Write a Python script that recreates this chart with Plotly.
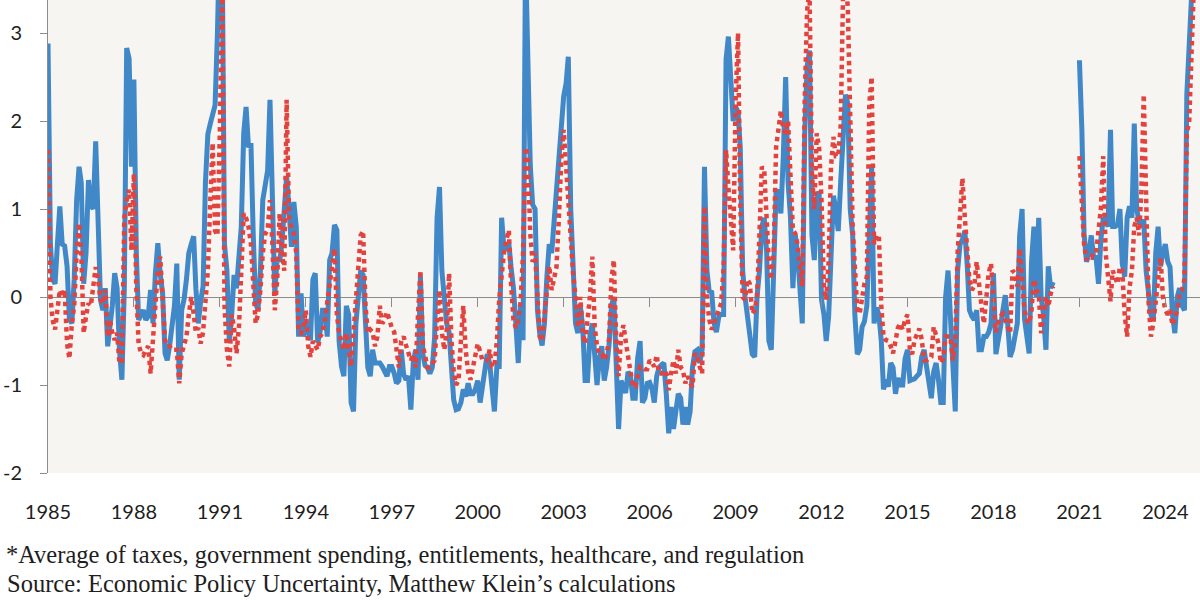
import plotly.graph_objects as go
import pandas as pd

# ---- Blue series (solid line), monthly values, Jan 1985 onward ----
blue_1985_1989 = [
    2.88, 0.6, 0.2, 0.15, 0.6, 1.03, 0.6, 0.58, 0.35, -0.25, -0.3, 0.2,
    1.1, 1.48, 1.3, 0.15, 0.5, 1.33, 1.05, 1.0, 1.77, 1.0, -0.03, -0.15,
    0.1, -0.56, -0.37, -0.1, 0.27, 0.1, -0.6, -0.94, 0.1, 2.83, 2.71, 1.48,
    2.47, 0.5, -0.26, -0.2, -0.15, -0.26, -0.22, 0.08, -0.3, 0.27, 0.61, 0.27,
    0.04, -0.64, -0.72, -0.55, -0.3, -0.1, 0.38, -0.94, -0.15, -0.03, 0.2, 0.5,
]
blue_1990s = [
    0.6, 0.69, 0.1, -0.3, -0.05, 0.12, 1.3, 1.85, 1.97, 2.1, 2.18, 3.0,
    4.2, 3.8, 0.6, 0.3, -0.49, -0.2, 0.25, 0.1, 0.45, 0.8, 1.86, 2.16,
    1.7, 1.75, 0.72, -0.07, -0.15, 0.3, 1.1, 1.3, 1.44, 2.24, 1.0, 0.04,
    0.45, 0.4, 0.6, 1.0, 1.37, 1.0, 0.57, 1.08, 0.8, -0.45, 0.04, -0.45,
    -0.3, -0.4, -0.49, 0.2, 0.27, -0.52, -0.4, -0.15, -0.15, -0.45, 0.42, 0.5,
    0.82, 0.76, -0.5, -0.79, -0.9, -0.1, -0.2, -1.2, -1.3, -0.3, 0.05, 0.3,
    0.25, -0.3, -0.8, -0.9, -0.6, -0.75, -0.75, -0.75, -0.79, -0.85, -0.9, -0.79,
    -0.79, -0.87, -0.98, -0.95, -0.6, -0.88, -0.94, -0.9, -1.28, -0.75, -0.6, -0.94,
    0.23, -0.65, -0.78, -0.8, -0.87, -0.8, -0.45, 0.9, 1.25, 0.3, 0.0, -0.3,
    -0.4, -0.75, -1.17, -1.28, -1.27, -1.2, -1.05, -1.13, -0.98, -1.1, -1.1, -1.05,
]
blue_2000s = [
    -0.95, -1.2, -1.0, -0.85, -0.65, -0.75, -1.05, -1.3, -0.79, -0.79, 0.9, 0.55,
    0.55, 0.61, 0.34, 0.1, -0.3, -0.75, -0.1, -0.49, 3.9, 2.6, 1.5, 1.05,
    1.0, -0.15, -0.41, -0.55, -0.3, 0.23, 0.6, 0.5, 0.9, 1.14, 1.5, 1.95,
    2.28, 2.43, 2.73, 1.0, 0.15, -0.3, -0.41, -0.1, -0.35, -0.95, -0.95, -0.45,
    -0.3, -0.75, -1.0, -0.7, -0.56, -0.95, -0.8, -0.55, -0.1, 0.0, -0.9, -1.5,
    -0.95, -1.02, -1.09, -0.85, -0.9, -1.15, -1.15, -0.7, -0.5, -1.2, -1.15, -0.98,
    -0.97, -1.05, -1.2, -0.9, -0.8, -0.77, -0.75, -1.1, -1.55, -1.25, -1.5, -1.3,
    -1.1, -1.15, -1.45, -1.25, -1.45, -1.3, -0.8, -0.62, -0.6, -0.75, -0.6, 1.48,
    0.3, 0.05, 0.07, -0.3, -0.4, -0.22, -0.2, -0.2, 2.7, 2.96, 2.35, 2.0,
    2.16, 2.1, 1.7, 0.3, 0.0, -0.2, -0.41, -0.65, -0.68, 0.0, 0.3, 0.8,
]
blue_2010s = [
    0.9, 0.5, -0.5, -0.6, 0.3, 1.2, 1.2, 0.95, 1.6, 2.5, 1.3, 0.91,
    0.1, 0.7, 0.5, 0.0, -0.3, 1.86, 2.62, 2.8, 0.7, 0.42, 1.1, 1.2,
    -0.03, -0.2, -0.5, -0.22, 0.4, 1.15, 1.0, 0.75, 1.3, 1.75, 2.3, 2.2,
    1.0, 0.7, -0.2, -0.65, -0.6, -0.34, -0.28, -0.1, 0.6, 1.48, -0.3, -0.12,
    -0.2, -0.5, -1.05, -0.94, -1.02, -0.75, -0.8, -1.1, -0.92, -1.0, -1.0, -0.7,
    -0.6, -0.95, -0.94, -0.93, -0.9, -0.87, -0.68, -0.6, -0.79, -1.0, -1.15, -0.85,
    -0.75, -0.95, -1.2, -1.2, 0.0, 0.3, -0.3, -1.0, -1.3, 0.3, 0.6, 0.65,
    0.75, 0.35, -0.15, -0.22, -0.26, -0.15, -0.6, -0.6, -0.45, -0.45, -0.4, -0.3,
    0.27, -0.65, -0.45, -0.34, -0.15, 0.02, -0.3, -0.68, -0.6, -0.4, -0.3, 0.7,
    1.0, -0.25, -0.4, -0.64, 0.4, 0.8, 0.0, 0.9, 0.0, -0.2, -0.6, 0.35,
]
blue_2020s = [
    0.1, 0.17, None, None, None, None, None, None, None, None, None, None,
    2.69, 1.9, 0.72, 0.4, 0.5, 0.7, 0.45, 0.45, 0.15, 0.65, 0.9, 0.87,
    0.8, 1.9, 0.8, 0.8, 0.82, 1.0, 0.38, 0.23, 0.9, 1.03, 0.9, 1.97,
    1.0, 0.85, 0.8, 0.88, 0.3, 0.04, -0.2, -0.26, 0.5, 0.8, 0.35, 0.5,
    0.6, 0.4, 0.34, -0.2, -0.41, 0.0, 0.1, -0.1, -0.15, 2.3, 2.96, 3.6,
    4.0,
]

# ---- Red series (dotted line) ----
red_1985_1989 = [
    1.67, 0.0, -0.26, -0.37, -0.15, 0.08, 0.0, 0.08, -0.53, -0.7, -0.3, -0.1,
    0.5, 0.84, 0.5, -0.41, -0.22, -0.07, -0.1, 0.08, 0.34, 0.2, -0.03, -0.08,
    0.08, -0.45, -0.26, -0.41, -0.49, -0.41, -0.75, -0.75, 0.9, 1.1, 1.22, 0.53,
    1.4, 0.1, -0.53, -0.64, -0.66, -0.6, -0.56, -0.87, -0.5, -0.03, 0.3, 0.46,
    0.0, -0.49, -0.56, -0.56, -0.6, -0.6, -0.6, -0.98, -0.64, -0.55, -0.45, -0.2,
]
red_1990s = [
    0.0, -0.19, -0.4, -0.35, -0.53, -0.4, -0.1, 0.3, 1.1, 1.75, 0.75, 0.7,
    1.9, 3.6, -0.1, -0.6, -0.79, -0.2, -0.35, -0.64, -0.35, 0.3, 0.95, 0.9,
    0.8, 0.6, 0.15, -0.3, -0.2, 0.08, 0.5, 0.72, 0.76, 1.1, 0.6, -0.15,
    0.2, 0.95, 0.5, 0.3, 2.24, 0.9, 0.8, 0.72, 0.5, -0.4, -0.41, -0.35,
    -0.15, -0.56, -0.68, -0.5, -0.55, -0.6, -0.45, -0.41, -0.26, -0.03, 0.12, 0.34,
    0.55, -0.2, -0.41, -0.49, -0.6, -0.41, -0.6, -0.79, -0.4, -0.05, 0.42, 0.7,
    0.75, -0.1, -0.41, -0.37, -0.4, -0.56, -0.45, -0.1, -0.3, -0.26, -0.17, -0.26,
    -0.35, -0.4, -0.65, -0.8, -0.5, -0.45, -0.55, -0.65, -0.72, -0.65, -0.8, -0.2,
    0.3, -0.55, -0.7, -0.8, -0.8, -0.75, -0.72, -0.26, 0.08, -0.4, -0.6, -0.4,
    0.27, -0.5, -0.85, -1.0, -0.95, -0.5, -0.1, -0.6, -0.85, -0.94, -0.8, -0.62,
]
red_2000s = [
    -0.53, -0.62, -0.72, -0.72, -0.72, -0.6, -0.79, -0.79, -0.5, -0.03, 0.3, 0.5,
    0.65, 0.76, 0.15, -0.26, -0.35, -0.26, -0.05, 0.5, 1.7, 1.6, 0.72, 0.4,
    0.5, -0.03, -0.45, -0.5, -0.2, 0.1, 0.35, 0.08, 0.2, 0.34, 0.9, 1.55,
    1.9, 1.5, 1.0, 0.6, 0.27, 0.0, -0.35, 0.0, -0.4, -0.53, -0.3, 0.0,
    0.46, -0.34, -0.56, -0.65, -0.65, -0.72, -0.65, -0.49, 0.2, 0.42, -0.5, -0.9,
    -0.45, -0.32, -0.5, -0.68, -0.85, -1.02, -1.02, -0.9, -0.79, -0.8, -0.82, -0.82,
    -0.72, -0.75, -0.79, -0.66, -0.87, -0.87, -0.83, -0.87, -1.06, -0.87, -0.72, -0.87,
    -0.6, -0.8, -0.83, -0.98, -0.9, -0.98, -1.02, -0.64, -0.68, -0.79, -0.87, 1.03,
    -0.03, -0.26, -0.37, -0.3, -0.22, -0.15, -0.07, 0.34, 1.67, 1.25, 0.85, 0.53,
    2.24, 3.0, 1.1, 0.0, -0.03, 0.2, 0.15, -0.19, -0.15, 0.0, 0.72, 1.48,
]
red_2010s = [
    1.44, 0.72, 0.38, 0.2, 0.5, 1.7, 1.9, 2.12, 1.9, 1.86, 2.0, 1.3,
    0.76, 0.72, 0.6, 0.34, 0.12, 2.24, 3.25, 3.5, 1.4, 1.0, 1.86, 1.7,
    1.1, 0.1, -0.03, 0.4, 1.48, 1.82, 1.6, 1.6, 1.94, 3.4, 3.6, 3.3,
    1.86, 0.8, 0.34, -0.15, -0.19, 0.0, 0.15, 0.23, 2.2, 2.5, 0.6, 0.7,
    0.7, -0.1, -0.45, -0.49, -0.5, -0.56, -0.64, -0.5, -0.35, -0.3, -0.37, -0.26,
    -0.2, -0.6, -0.65, -0.49, -0.42, -0.36, -0.48, -0.72, -0.72, -0.7, -0.68, -0.34,
    -0.45, -0.53, -0.75, -0.7, -0.45, -0.45, -0.45, -0.72, -0.5, 0.5, 0.91, 1.35,
    0.9, 0.55, 0.19, 0.08, 0.12, 0.4, 0.12, -0.1, -0.3, 0.0, 0.27, 0.38,
    0.0, -0.4, -0.3, -0.22, -0.19, -0.26, -0.32, -0.41, 0.3, 0.27, 0.12, 0.55,
    0.2, -0.15, -0.26, -0.3, -0.15, 0.2, 0.08, 0.04, -0.41, -0.22, 0.0, -0.11,
]
red_2020s = [
    0.04, 0.12, None, None, None, None, None, None, None, None, None, None,
    1.6, 1.1, 0.6, 0.42, 0.46, 0.45, 0.5, 0.5, 0.72, 1.0, 1.6, 0.5,
    0.23, -0.05, 0.3, 0.23, 0.15, 0.34, 0.3, -0.2, -0.45, 0.1, 0.3, 0.8,
    0.9, 0.7, 1.2, 2.3, 1.0, -0.05, -0.45, -0.3, -0.05, 0.15, 0.45, 0.0,
    -0.15, -0.2, -0.15, -0.32, -0.25, -0.15, 0.04, 0.08, 0.2, 1.86, 2.0, 3.0,
    3.6,
]

tick_years = [1985, 1988, 1991, 1994, 1997, 2000, 2003, 2006, 2009, 2012, 2015, 2018, 2021, 2024]
y_ticks = [-2, -1, 0, 1, 2, 3]
y_ticktext = ["-2", "-1", "0", "1", "2", "3"]
note_line1 = "*Average of taxes, government spending, entitlements, healthcare, and regulation"
note_line2 = "Source: Economic Policy Uncertainty, Matthew Klein\u2019s calculations"

blue = blue_1985_1989 + blue_1990s + blue_2000s + blue_2010s + blue_2020s
red = red_1985_1989 + red_1990s + red_2000s + red_2010s + red_2020s
months = pd.date_range("1985-01-01", periods=len(blue), freq="MS")

Y_MIN, Y_MAX = -2, 3.375
X_RANGE = ["1985-01-01", "2025-03-18"]
tickvals = [f"{y}-01-01" for y in tick_years]

BLUE = "#4088C7"
RED = "#E2433F"
AXIS = "#8C8C8C"
TEXT = "#1E1E1E"
TICK_FONT = dict(family="Lato", size=20, color=TEXT)
NOTE_FONT = dict(family="Liberation Serif", size=24.5, color=TEXT)
PLOT_H = 473

fig = go.Figure()
fig.add_trace(go.Scatter(
    x=months, y=blue, mode="lines", connectgaps=False,
    line=dict(color=BLUE, width=5), hoverinfo="skip", showlegend=False,
))
fig.add_trace(go.Scatter(
    x=months, y=red, mode="lines", connectgaps=False,
    line=dict(color=RED, width=4.5, dash="4.5px,4px"), hoverinfo="skip", showlegend=False,
))
# invisible trace that activates the tick axis drawn on the zero line
fig.add_trace(go.Scatter(
    x=[months[0]], y=[0], xaxis="x2", mode="markers",
    marker=dict(opacity=0), hoverinfo="skip", showlegend=False,
))

fig.update_layout(
    width=1200, height=600,
    margin=dict(l=48, r=0, t=0, b=600 - PLOT_H),
    paper_bgcolor="white",
    plot_bgcolor="#F7F5F2",
    hovermode=False,
    xaxis=dict(
        type="date", range=X_RANGE, tickvals=tickvals, ticktext=[str(y) for y in tick_years],
        ticks="outside", ticklen=21, tickcolor="rgba(0,0,0,0)",
        showgrid=False, zeroline=False, showline=False, tickfont=TICK_FONT,
    ),
    xaxis2=dict(
        type="date", overlaying="x", matches="x", anchor="free",
        position=(0 - Y_MIN) / (Y_MAX - Y_MIN),
        tickvals=tickvals[1:], ticks="outside", ticklen=9, tickwidth=1, tickcolor=AXIS,
        showticklabels=False, showgrid=False, zeroline=False, showline=False,
    ),
    yaxis=dict(
        range=[Y_MIN, Y_MAX], tickvals=y_ticks, ticktext=y_ticktext,
        ticks="outside", ticklen=7, tickwidth=1, tickcolor=AXIS,
        showline=True, linecolor=AXIS, linewidth=1,
        zeroline=True, zerolinecolor=AXIS, zerolinewidth=1,
        showgrid=False, tickfont=TICK_FONT, ticklabelstandoff=14,
    ),
    annotations=[
        dict(text=note_line1, xref="paper", x=0, xanchor="left", xshift=-44,
             yref="paper", y=-(554 - PLOT_H) / PLOT_H, yanchor="middle",
             showarrow=False, font=NOTE_FONT),
        dict(text=note_line2, xref="paper", x=0, xanchor="left", xshift=-43,
             yref="paper", y=-(583 - PLOT_H) / PLOT_H, yanchor="middle",
             showarrow=False, font=NOTE_FONT),
    ],
)

fig.write_html(
    "out.html",
    config={"displayModeBar": False},
    post_script="document.body.style.margin='0px';",
)
